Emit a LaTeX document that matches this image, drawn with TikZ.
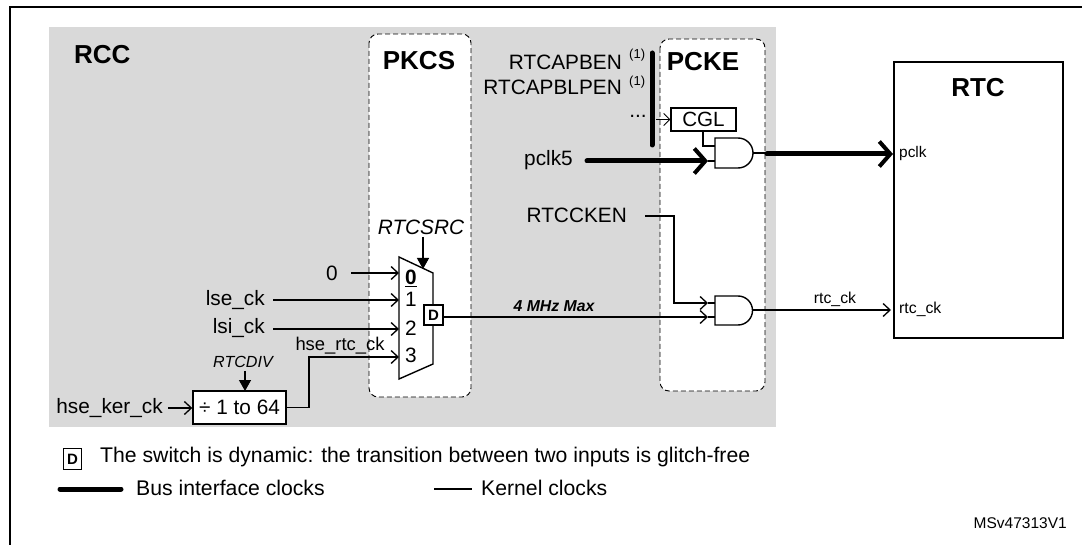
\documentclass[tikz,border=0pt]{standalone}
\usepackage{fontspec}
\setmainfont{Liberation Sans}
\usetikzlibrary{arrows.meta}
\definecolor{rccgray}{HTML}{D9D9D9}
\newcommand{\fs}[1]{\fontsize{#1}{#1}\selectfont}
\tikzset{
  x=1pt,y=-1pt,
  lbl/.style={inner sep=0pt,font=\fs{20.8}},
  head/.style={inner sep=0pt,font=\fs{26}\bfseries},
  domainbox/.style={draw=black,fill=white,dash pattern=on 5pt off 3pt,line width=0.9pt,rounded corners=9pt},
  kernel/.style={draw=black,line width=1.3pt,-{Straight Barb[length=7pt,width=13pt,line width=1.3pt]}},
  plain/.style={draw=black,line width=1.3pt},
  bus/.style={draw=black,line width=5pt,line cap=round,-{Straight Barb[length=11pt,width=25pt,line width=4pt]}},
  ctrl/.style={draw=black,line width=1.3pt,-{Triangle[length=11pt,width=12pt]}},
  gatebox/.style={draw=black,fill=white,line width=1.4pt,inner sep=0pt},
}
\begin{document}
\begin{tikzpicture}
\useasboundingbox (0,0) rectangle (1082,545);
% frame
\draw[line width=2pt] (10,545) -- (10,7) -- (1082,7);
\fill (341,0) arc[start angle=180,end angle=360,x radius=6.5,y radius=3.2] -- cycle;
% RCC
\fill[rccgray] (49,27) rectangle (776,427);
\node[head,anchor=west] (rcc) at (74,55) {RCC};
\draw[domainbox] (369,34) rectangle (471,397);
\draw[domainbox] (660,39) rectangle (765,391);
\node[head] (pkcs) at (419,61) {PKCS};
\node[head] (pcke) at (703,62) {PCKE};
% RTC
\draw[fill=white,line width=2pt] (894,62) rectangle (1063,338);
\node[head] (rtc) at (978,88) {RTC};
\node[inner sep=0pt,anchor=west,font=\fs{15.4}] (pclk) at (899,154) {pclk};
\node[inner sep=0pt,anchor=west,font=\fs{15.8}] (rtcck) at (899,309) {rtc\_ck};
% Mux
\draw[line width=1.4pt,fill=white] (399,257) -- (433,273) -- (433,364) -- (399,379) -- cycle;
\node[lbl] (m0) at (411,278) {\underline{\textbf{0}}};
\node[lbl] (m1) at (411,299) {1};
\node[lbl] (m2) at (411,328) {2};
\node[lbl] (m3) at (411,355) {3};
\coordinate (i0) at (399,273);
\coordinate (i1) at (399,300);
\coordinate (i2) at (399,329);
\coordinate (i3) at (399,357);
\node[gatebox,minimum width=19pt,minimum height=20pt,font=\fs{15}\bfseries] (dsw) at (433.5,315) {D};
\node[lbl,font=\fs{20.8}\itshape] (rtcsrc) at (421,227) {RTCSRC};
\coordinate (srcstart) at (423,237);
\coordinate (srcend) at (423,269);
\draw[ctrl] (srcstart) -- (srcend);
% inputs
\node[lbl] (zero) at (332,273) {0};
\node[lbl,anchor=east] (lse) at (265,300) {lse\_ck};
\node[lbl,anchor=east] (lsi) at (265,328) {lsi\_ck};
\node[inner sep=0pt,font=\fs{18.4}] (hsertc) at (340,346) {hse\_rtc\_ck};
\coordinate (s0) at (351,273);
\coordinate (s1) at (273,300);
\coordinate (s2) at (273,329);
\draw[kernel] (s0) -- (i0);
\draw[kernel] (s1) -- (i1);
\draw[kernel] (s2) -- (i2);
% divider
\node[gatebox,minimum width=93pt,minimum height=33pt,font=\fs{20.8}] (div) at (239.5,407.5) {÷ 1 to 64};
\node[inner sep=0pt,font=\fs{16.1}\itshape] (rtcdiv) at (243,362) {RTCDIV};
\coordinate (divstart) at (245,371);
\coordinate (divend) at (245,391);
\draw[ctrl] (divstart) -- (divend);
\node[lbl,anchor=east] (hse) at (163,408) {hse\_ker\_ck};
\coordinate (hsestart) at (168,408);
\draw[kernel] (hsestart) -- (hsestart -| div.west);
\draw[kernel] (div.east) -- (309,407.5) -- (309,357) -- (i3);
% output
\node[inner sep=0pt,font=\fs{15.8}\bfseries\itshape] (mhz) at (554,306) {4 MHz Max};
% top labels
\node[lbl,anchor=east] (apben) at (622,62) {RTCAPBEN};
\node[inner sep=0pt,anchor=west,font=\fs{13}] (sone) at (629,55) {(1)};
\node[lbl,anchor=east] (lpen) at (622,87) {RTCAPBLPEN};
\node[inner sep=0pt,anchor=west,font=\fs{13}] (stwo) at (629,82) {(1)};
\node[lbl] (dots) at (638,116) {...};
\coordinate (vbt) at (652,53);
\coordinate (vbb) at (652,145);
\draw[draw=black,line width=5pt,line cap=round] (vbt) -- (vbb);
% CGL
\node[gatebox,minimum width=65pt,minimum height=23pt,font=\fs{20.6}] (cgl) at (703.5,119.5) {CGL};
\coordinate (vbo) at (656,119.5);
\draw[draw=black,line width=0.9pt,-{Straight Barb[length=6pt,width=12pt,line width=0.9pt]}] (vbo) -- (cgl.west);
% AND 1
\path[draw=black,fill=white,line width=1.4pt] (715,138) -- (738,138) arc[start angle=-90,end angle=90,radius=15] -- (715,168) -- cycle;
\coordinate (anda) at (715,146);
\coordinate (andb) at (715,161);
\coordinate (ando) at (753,153);
\draw[plain] (703,131) -- (703,146) -- (anda);
\node[lbl,anchor=east] (pclkfive) at (573,160) {pclk5};
\coordinate (busin) at (587,161);
\coordinate (busend) at (708,161);
\draw[plain] (busend) -- (andb);
\draw[bus] (busin) -- (busend);
\coordinate (thinend) at (765,153);
\draw[plain] (ando) -- (thinend);
\coordinate (busoutstart) at (767,154);
\coordinate (busoutend) at (893,154);
\draw[bus] (busoutstart) -- (busoutend);
% AND 2
\path[draw=black,fill=white,line width=1.4pt] (715,296) -- (738,296) arc[start angle=-90,end angle=90,radius=14.5] -- (715,325) -- cycle;
\coordinate (cora) at (715,303);
\coordinate (corb) at (715,317);
\coordinate (coro) at (753,310);
\coordinate (cotipa) at (708,303);
\coordinate (cotipb) at (708,317);
\node[lbl,anchor=east] (ctken) at (627,215) {RTCCKEN};
\coordinate (ckstart) at (645,216);
\draw[kernel] (ckstart) -- (674,216) -- (674,303) -- (cotipa);
\draw[plain] (cotipa) -- (cora);
\draw[kernel] (dsw.east |- cotipb) -- (cotipb);
\draw[plain] (cotipb) -- (corb);
\node[inner sep=0pt,font=\fs{15.8}] (rtcckl) at (835,299) {rtc\_ck};
\coordinate (rtcin) at (891,310);
\draw[kernel] (coro) -- (rtcin);
% legend
\node[draw=black,line width=1.2pt,minimum width=18pt,minimum height=21pt,inner sep=0pt,font=\fs{15}\bfseries] (legd) at (72.5,459) {D};
\node[inner sep=0pt,anchor=west,font=\fs{21.2}] (legt) at (100,457) {The switch is dynamic: the transition between two inputs is glitch-free};
\coordinate (bone) at (60,489);
\coordinate (btwo) at (121,489);
\draw[line width=5pt,line cap=round] (bone) -- (btwo);
\node[inner sep=0pt,anchor=west,font=\fs{21.2}] (legb) at (136,488) {Bus interface clocks};
\coordinate (kone) at (434,489);
\coordinate (ktwo) at (472,489);
\draw[plain] (kone) -- (ktwo);
\node[inner sep=0pt,anchor=west,font=\fs{21.2}] (legk) at (481,488) {Kernel clocks};
\node[inner sep=0pt,anchor=east,font=\fs{15.5}] (ver) at (1067,523) {MSv47313V1};
\end{tikzpicture}
\end{document}
